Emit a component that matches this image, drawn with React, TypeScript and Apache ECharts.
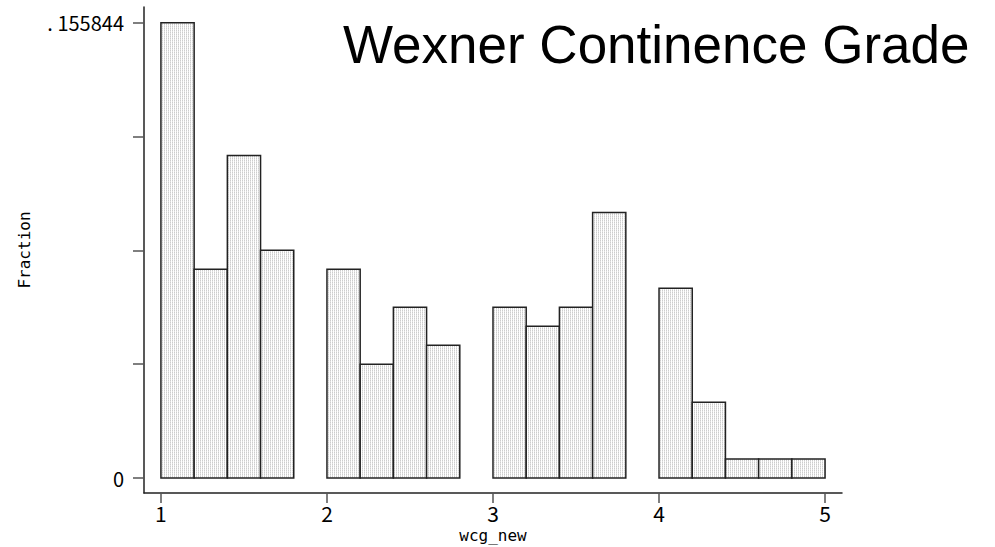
import React, { useEffect, useRef } from "react";
import * as echarts from "echarts";

const title = "Wexner Continence Grade";
const xName = "wcg_new";
const yName = "Fraction";
const binStarts = [1.0, 1.2, 1.4, 1.6, 2.0, 2.2, 2.4, 2.6, 3.0, 3.2, 3.4, 3.6, 4.0, 4.2, 4.4, 4.6, 4.8];
const binEnds = [1.2, 1.4, 1.6, 1.8, 2.2, 2.4, 2.6, 2.8, 3.2, 3.4, 3.6, 3.8, 4.2, 4.4, 4.6, 4.8, 5.0];
const counts = [24, 11, 17, 12, 11, 6, 9, 7, 9, 8, 9, 14, 10, 4, 1, 1, 1];
const total = 154;
const xTicks = [1, 2, 3, 4, 5];
const yTicks = [0, 0.038961, 0.077922, 0.116883, 0.155844];
const yLabelValues = [0, 0.155844];
const yLabelTexts = ["0", ". 155844"];

function makePattern(): string {
  const c = document.createElement("canvas");
  c.width = 2;
  c.height = 2;
  const ctx = c.getContext("2d");
  if (!ctx) return "";
  ctx.fillStyle = "#ffffff";
  ctx.fillRect(0, 0, 2, 2);
  ctx.fillStyle = "#cdcdcd";
  ctx.fillRect(0, 0, 1, 1);
  ctx.fillStyle = "#e2e2e2";
  ctx.fillRect(0, 1, 1, 1);
  return c.toDataURL();
}

export default function App() {
  const ref = useRef<HTMLDivElement>(null);
  useEffect(() => {
    if (!ref.current) return;
    const chart = echarts.init(ref.current, undefined, { renderer: "svg" });
    const data = binStarts.map((s, i) => [s, binEnds[i], counts[i] / total]);
    const pat = makePattern();
    const fill: any = pat ? { image: pat, repeat: "repeat" } : "#e6e6e6";
    chart.setOption({
      animation: false,
      backgroundColor: "#ffffff",
      grid: { left: 144, right: 153, top: 7, bottom: 54, containLabel: false, outerBoundsMode: "none" },
      graphic: [
        {
          type: "text",
          left: 343,
          top: 18,
          style: {
            text: title,
            font: '53px "Liberation Sans", Arial, sans-serif',
            fill: "#000000",
          },
        },
      ],
      xAxis: {
        type: "value",
        min: 0.898,
        max: 5.102,
        name: xName,
        nameLocation: "middle",
        nameGap: 28,
        nameTextStyle: { fontFamily: "DejaVu Sans Mono", fontSize: 16, color: "#000" },
        axisLine: { show: true, onZero: false, lineStyle: { color: "#222", width: 1.5 } },
        axisTick: {
          show: true,
          length: 10,
          customValues: xTicks,
          lineStyle: { color: "#555", width: 1.5 },
        },
        axisLabel: {
          customValues: xTicks,
          margin: 9,
          fontFamily: "Noto Sans CJK JP",
          fontSize: 21,
          color: "#000",
        },
        splitLine: { show: false },
      },
      yAxis: {
        type: "value",
        min: -0.005126,
        max: 0.16121,
        name: yName,
        nameLocation: "middle",
        nameGap: 112,
        nameTextStyle: { fontFamily: "DejaVu Sans Mono", fontSize: 16, color: "#000" },
        axisLine: { show: true, onZero: false, lineStyle: { color: "#222", width: 1.5 } },
        axisTick: {
          show: true,
          length: 11,
          customValues: yTicks,
          lineStyle: { color: "#555", width: 1.5 },
        },
        axisLabel: {
          customValues: yLabelValues,
          margin: 20,
          fontFamily: "Noto Sans CJK JP",
          fontSize: 20,
          color: "#000",
          formatter: (v: number) => {
            const idx = yLabelValues.findIndex((t) => Math.abs(t - v) < 1e-6);
            return idx >= 0 ? yLabelTexts[idx] : "";
          },
        },
        splitLine: { show: false },
      },
      series: [
        {
          type: "custom",
          data,
          renderItem: (params: any, api: any) => {
            const p0 = api.coord([api.value(0), api.value(2)]);
            const p1 = api.coord([api.value(1), 0]);
            return {
              type: "rect",
              shape: { x: p0[0], y: p0[1], width: p1[0] - p0[0], height: p1[1] - p0[1] },
              style: { fill, stroke: "#222", lineWidth: 1.5 },
            };
          },
          encode: { x: [0, 1], y: 2 },
        },
      ],
    });
    return () => chart.dispose();
  }, []);
  return <div ref={ref} style={{ width: 995, height: 547, position: "absolute", left: 0, top: 0 }} />;
}
